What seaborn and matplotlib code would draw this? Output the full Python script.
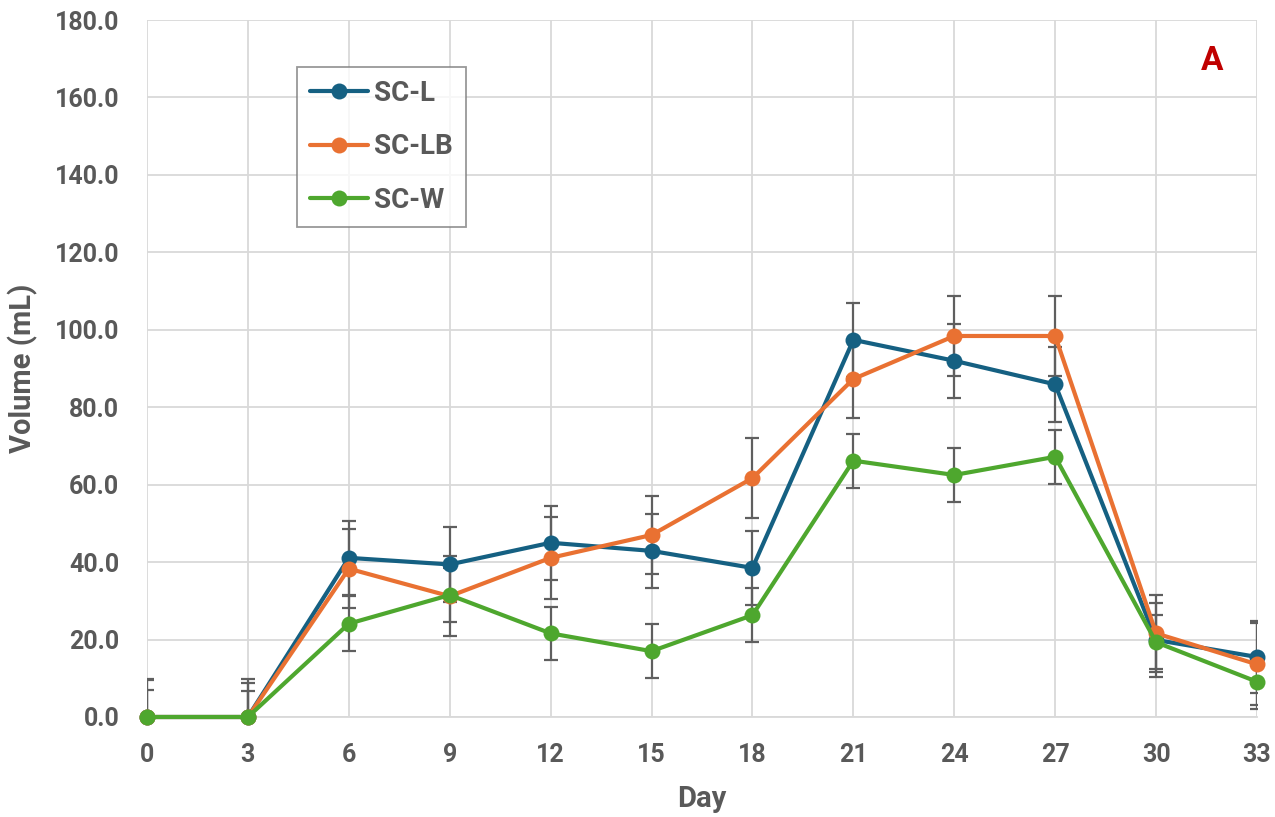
import matplotlib
matplotlib.use("Agg")
import matplotlib.pyplot as plt
import seaborn as sns
import pandas as pd
import numpy as np
from matplotlib.ticker import FormatStrFormatter

days = [0, 3, 6, 9, 12, 15, 18, 21, 24, 27, 30, 33]
series_names = ["SC-L", "SC-LB", "SC-W"]

sc_l = [0.0, 0.0, 41.1, 39.4, 45.0, 42.9, 38.5, 97.4, 92.0, 85.9, 19.9, 15.5]
sc_lb = [0.0, 0.0, 38.3, 31.2, 41.1, 47.0, 61.7, 87.3, 98.4, 98.4, 21.6, 13.6]
sc_w = [0.0, 0.0, 24.1, 31.5, 21.6, 17.0, 26.3, 66.2, 62.5, 67.2, 19.3, 9.1]

err_l = [9.6, 9.8, 9.6, 9.6, 9.5, 9.5, 9.6, 9.6, 9.6, 9.7, 9.5, 9.4]
err_lb = [9.8, 8.8, 10.2, 10.3, 10.5, 10.1, 10.4, 10.0, 10.3, 10.3, 9.9, 10.6]
err_w = [7.0, 6.7, 7.1, 7.0, 6.9, 7.0, 7.0, 7.0, 6.9, 6.9, 7.0, 7.0]

colors = ["#156082", "#E97132", "#4EA72E"]
text_gray = "#595959"

sns.set_theme(style="whitegrid")
plt.rcParams["font.family"] = ["Roboto", "DejaVu Sans"]
plt.rcParams["font.weight"] = "bold"

df = pd.DataFrame({
    "Day": days * 3,
    "Volume": sc_l + sc_lb + sc_w,
    "Series": [s for s in series_names for _ in days],
})

fig = plt.figure(figsize=(12.75, 8.17), dpi=100)
ax = fig.add_axes([0.1153, 0.1224, 0.8706, 0.8531])

# error bars first (clipped to the plot area), markers on top of them
for vals, errs in zip([sc_l, sc_lb, sc_w], [err_l, err_lb, err_w]):
    ax.errorbar(days, vals, yerr=errs, fmt="none", ecolor="#5f5f5f",
                elinewidth=1.6, capsize=5, capthick=1.6, zorder=2)
n_err_lines = len(ax.lines)

sns.lineplot(data=df, x="Day", y="Volume", hue="Series", palette=colors,
             marker="o", markersize=11.5, markeredgewidth=0, linewidth=3.0,
             ax=ax, zorder=3, legend=True)
for line in ax.lines[n_err_lines:]:
    line.set_clip_on(False)

ax.set_xlim(0, 33)
ax.set_ylim(0, 180)
ax.set_xticks(days)
ax.set_yticks(np.arange(0, 181, 20))
ax.yaxis.set_major_formatter(FormatStrFormatter("%.1f"))
ax.grid(True, color="#d9d9d9", linewidth=1.3)
for side in ["left", "right", "top"]:
    ax.spines[side].set_visible(False)
ax.spines["bottom"].set_color("#d9d9d9")
ax.spines["bottom"].set_linewidth(1.3)

ax.tick_params(axis="both", labelsize=18, colors=text_gray, length=0)
ax.tick_params(axis="y", pad=20)
ax.tick_params(axis="x", pad=19)
for lab in ax.get_xticklabels() + ax.get_yticklabels():
    lab.set_fontweight("bold")

ax.set_xlabel("Day", fontsize=21, fontweight="bold", color=text_gray, labelpad=13)
ax.set_ylabel("Volume (mL)", fontsize=21, fontweight="bold", color=text_gray, labelpad=12)

handles, labels = ax.get_legend_handles_labels()
leg = ax.legend(handles, labels, loc="upper left", bbox_to_anchor=(0.1351, 0.9326),
                fontsize=20, frameon=True, fancybox=False, borderpad=0.47,
                labelspacing=0.95, handlelength=2.1, handletextpad=0.2,
                borderaxespad=0)
leg.get_frame().set_edgecolor("#7f7f7f")
leg.get_frame().set_linewidth(1.3)
for t in leg.get_texts():
    t.set_color(text_gray)
    t.set_fontweight("bold")

ax.text(0.9595, 0.941, "A", transform=ax.transAxes, fontsize=24,
        fontweight="bold", color="#C00000", ha="center", va="center")

fig.savefig("out.png", dpi=100)
